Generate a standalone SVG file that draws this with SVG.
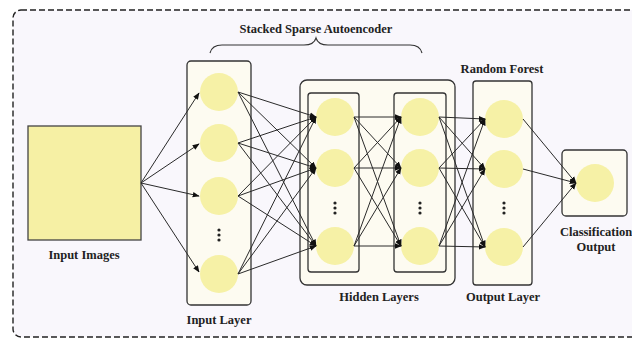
<svg xmlns="http://www.w3.org/2000/svg" width="632" height="340" viewBox="0 0 632 340">
<defs>
<marker id="ah" viewBox="0 0 10 10" refX="9" refY="5" markerWidth="7" markerHeight="7" markerUnits="userSpaceOnUse" orient="auto">
<path d="M0,1 L10,5 L0,9 z" fill="#111"/>
</marker>
<style>
.lbl{font-family:"Liberation Serif","Times New Roman",serif;font-weight:bold;font-size:12.5px;fill:#222;text-anchor:middle}
.box{fill:#fdfbf1;stroke:#333;stroke-width:1.3}
.node{fill:#f6f1a6}
.dot{fill:#222}
.c line{stroke:#2a2a2a;stroke-width:1;marker-end:url(#ah)}
</style>
</defs>
<rect x="0" y="0" width="632" height="340" fill="#ffffff"/>
<rect id="frame" x="13" y="10" width="640" height="327" rx="8" fill="#f9f7fc" stroke="#222" stroke-width="1.4" stroke-dasharray="6 3"/>

<g id="input-images">
<rect x="28" y="126" width="113" height="114" fill="#f6f0a4" stroke="#444" stroke-width="1.3"/>
<text class="lbl" x="84" y="259">Input Images</text>
</g>

<g id="title">
<text class="lbl" x="316" y="33">Stacked Sparse Autoencoder</text>
<path d="M210,53 Q212,45 222,45 L304,45 Q314,45 316,38 Q318,45 328,45 L410,45 Q420,45 422,53" fill="none" stroke="#333" stroke-width="1.1"/>
</g>

<g id="input-layer">
<rect class="box" x="187" y="61" width="64" height="244" rx="4"/>
<circle class="node" cx="219" cy="92" r="19"/>
<circle class="node" cx="219" cy="143" r="19"/>
<circle class="node" cx="219" cy="196" r="19"/>
<circle class="node" cx="219" cy="274" r="19"/>
<circle class="dot" cx="219" cy="230" r="1.6"/>
<circle class="dot" cx="219" cy="235" r="1.6"/>
<circle class="dot" cx="219" cy="240" r="1.6"/>
<text class="lbl" x="219" y="324">Input Layer</text>
</g>

<g id="hidden-layers">
<rect class="box" x="300" y="80" width="155" height="205" rx="7"/>
<rect class="box" x="308" y="93" width="51" height="179" rx="3"/>
<rect class="box" x="394" y="93" width="52" height="179" rx="3"/>
<circle class="node" cx="335" cy="117" r="19"/>
<circle class="node" cx="335" cy="168" r="19"/>
<circle class="node" cx="335" cy="246" r="19"/>
<circle class="node" cx="420" cy="117" r="19"/>
<circle class="node" cx="420" cy="168" r="19"/>
<circle class="node" cx="420" cy="246" r="19"/>
<circle class="dot" cx="335" cy="203" r="1.6"/>
<circle class="dot" cx="335" cy="208" r="1.6"/>
<circle class="dot" cx="335" cy="213" r="1.6"/>
<circle class="dot" cx="420" cy="203" r="1.6"/>
<circle class="dot" cx="420" cy="208" r="1.6"/>
<circle class="dot" cx="420" cy="213" r="1.6"/>
<text class="lbl" x="379" y="301">Hidden Layers</text>
</g>

<g id="output-layer">
<text class="lbl" x="502" y="73">Random Forest</text>
<rect class="box" x="473" y="81" width="59" height="204" rx="3"/>
<circle class="node" cx="504" cy="119" r="19"/>
<circle class="node" cx="504" cy="169" r="19"/>
<circle class="node" cx="504" cy="247" r="19"/>
<circle class="dot" cx="504" cy="203" r="1.6"/>
<circle class="dot" cx="504" cy="208" r="1.6"/>
<circle class="dot" cx="504" cy="213" r="1.6"/>
<text class="lbl" x="503" y="301">Output Layer</text>
</g>

<g id="classification-output">
<rect class="box" x="562" y="150" width="65" height="66" rx="4"/>
<circle class="node" cx="595" cy="183" r="19"/>
<text class="lbl" x="596" y="236">Classification</text>
<text class="lbl" x="596" y="251">Output</text>
</g>

<g id="connectors" class="c">
<line x1="141" y1="183" x2="199" y2="93"/>
<line x1="141" y1="183" x2="199" y2="144"/>
<line x1="141" y1="183" x2="199" y2="196"/>
<line x1="141" y1="183" x2="199" y2="272"/>

<line x1="238" y1="92" x2="316" y2="117"/>
<line x1="238" y1="92" x2="316" y2="168"/>
<line x1="238" y1="92" x2="316" y2="246"/>
<line x1="238" y1="143" x2="316" y2="117"/>
<line x1="238" y1="143" x2="316" y2="168"/>
<line x1="238" y1="143" x2="316" y2="246"/>
<line x1="238" y1="196" x2="316" y2="117"/>
<line x1="238" y1="196" x2="316" y2="168"/>
<line x1="238" y1="196" x2="316" y2="246"/>
<line x1="238" y1="274" x2="316" y2="117"/>
<line x1="238" y1="274" x2="316" y2="168"/>
<line x1="238" y1="274" x2="316" y2="246"/>

<line x1="354" y1="117" x2="401" y2="117"/>
<line x1="354" y1="117" x2="401" y2="168"/>
<line x1="354" y1="117" x2="401" y2="246"/>
<line x1="354" y1="168" x2="401" y2="117"/>
<line x1="354" y1="168" x2="401" y2="168"/>
<line x1="354" y1="168" x2="401" y2="246"/>
<line x1="354" y1="246" x2="401" y2="117"/>
<line x1="354" y1="246" x2="401" y2="168"/>
<line x1="354" y1="246" x2="401" y2="246"/>

<line x1="439" y1="117" x2="485" y2="119"/>
<line x1="439" y1="117" x2="485" y2="169"/>
<line x1="439" y1="117" x2="485" y2="247"/>
<line x1="439" y1="168" x2="485" y2="119"/>
<line x1="439" y1="168" x2="485" y2="169"/>
<line x1="439" y1="168" x2="485" y2="247"/>
<line x1="439" y1="246" x2="485" y2="119"/>
<line x1="439" y1="246" x2="485" y2="169"/>
<line x1="439" y1="246" x2="485" y2="247"/>

<line x1="523" y1="119" x2="576" y2="183"/>
<line x1="523" y1="169" x2="576" y2="183"/>
<line x1="523" y1="247" x2="576" y2="183"/>
</g>
</svg>
